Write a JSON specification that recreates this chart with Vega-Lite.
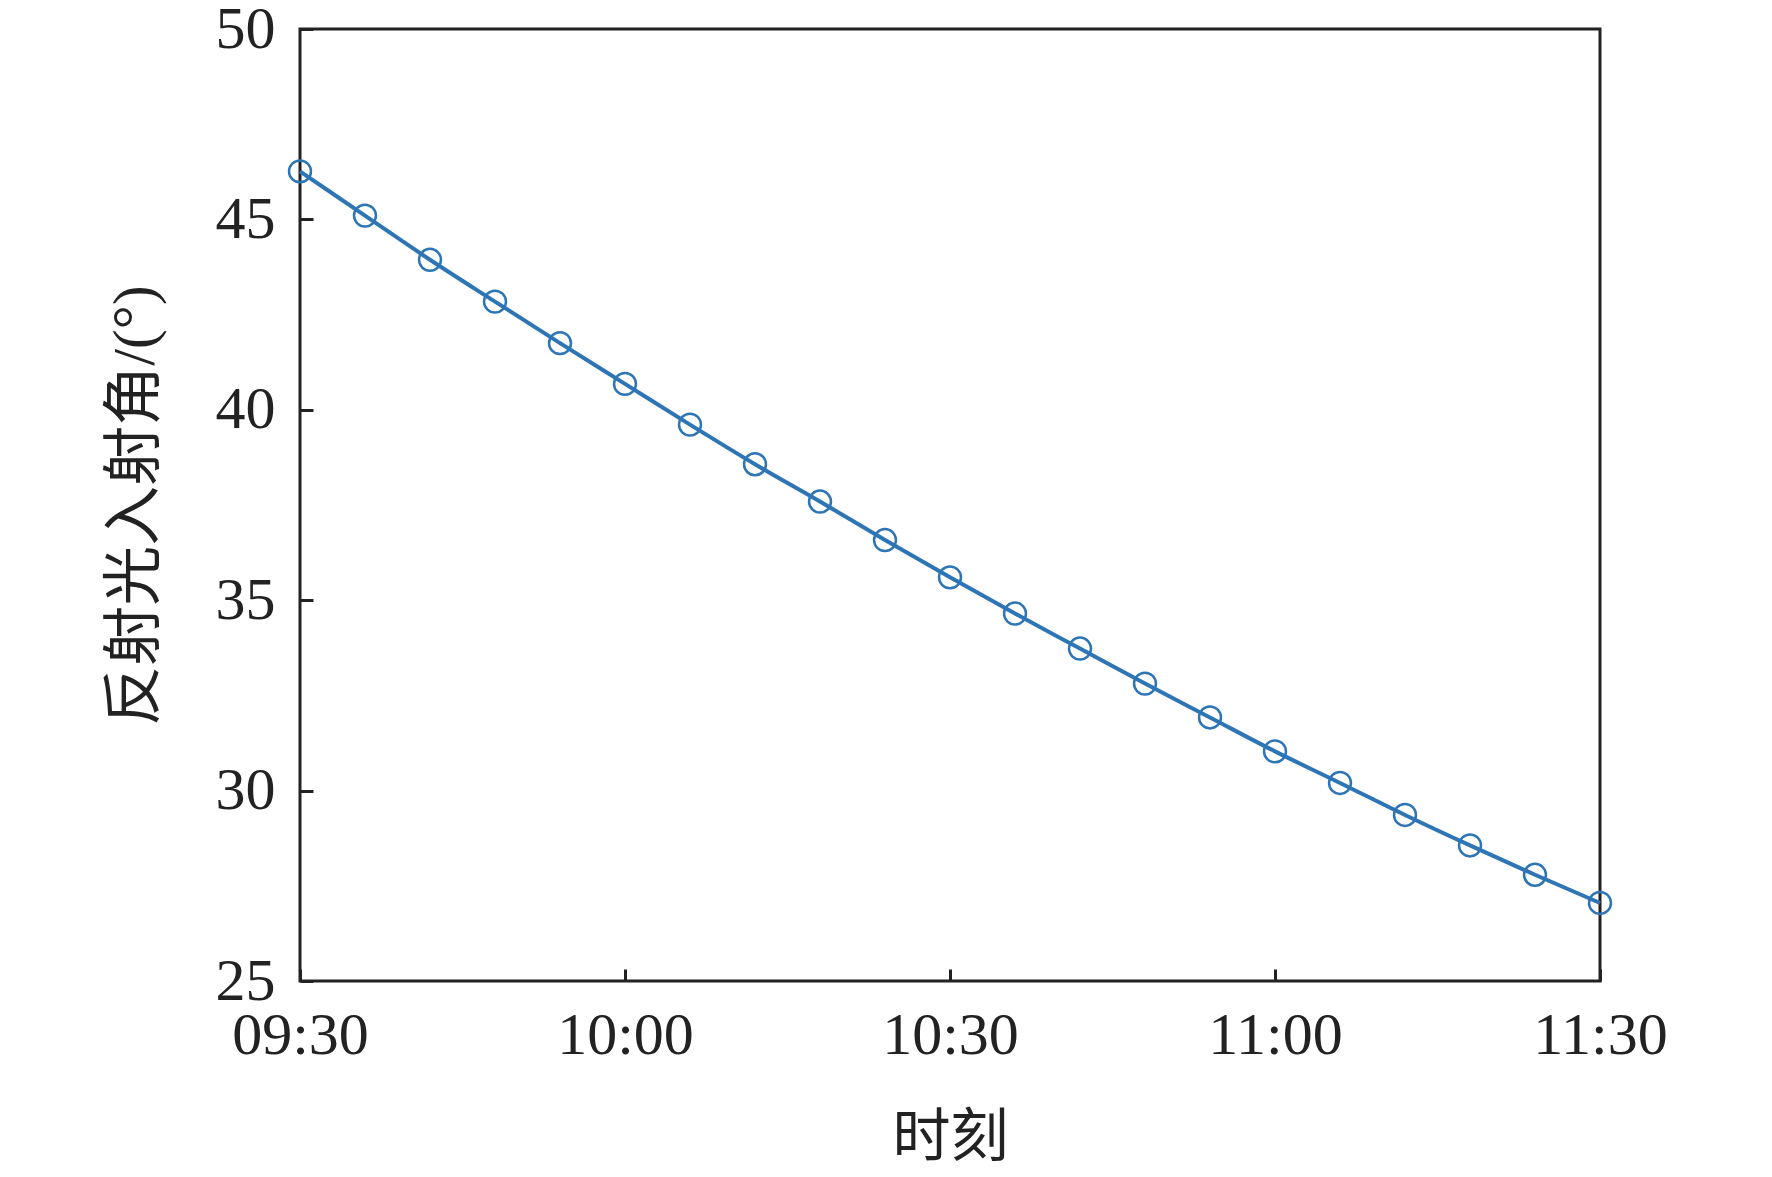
{
  "$schema": "https://vega.github.io/schema/vega-lite/v6.json",
  "autosize": {"type": "none"},
  "width": 1300,
  "height": 952,
  "padding": {"left": 300, "top": 29, "right": 172, "bottom": 196},
  "background": "white",
  "config": {
    "view": {"stroke": "#222222", "strokeWidth": 3},
    "font": "Liberation Serif"
  },
  "data": {
    "values": [
      {"time": "2000-01-01T09:30:00", "angle": 46.26},
      {"time": "2000-01-01T09:36:00", "angle": 45.10},
      {"time": "2000-01-01T09:42:00", "angle": 43.94},
      {"time": "2000-01-01T09:48:00", "angle": 42.84},
      {"time": "2000-01-01T09:54:00", "angle": 41.75},
      {"time": "2000-01-01T10:00:00", "angle": 40.68},
      {"time": "2000-01-01T10:06:00", "angle": 39.61},
      {"time": "2000-01-01T10:12:00", "angle": 38.57},
      {"time": "2000-01-01T10:18:00", "angle": 37.59},
      {"time": "2000-01-01T10:24:00", "angle": 36.58},
      {"time": "2000-01-01T10:30:00", "angle": 35.60},
      {"time": "2000-01-01T10:36:00", "angle": 34.65},
      {"time": "2000-01-01T10:42:00", "angle": 33.73},
      {"time": "2000-01-01T10:48:00", "angle": 32.81},
      {"time": "2000-01-01T10:54:00", "angle": 31.92},
      {"time": "2000-01-01T11:00:00", "angle": 31.03},
      {"time": "2000-01-01T11:06:00", "angle": 30.20},
      {"time": "2000-01-01T11:12:00", "angle": 29.36},
      {"time": "2000-01-01T11:18:00", "angle": 28.56},
      {"time": "2000-01-01T11:24:00", "angle": 27.79},
      {"time": "2000-01-01T11:30:00", "angle": 27.05}
    ]
  },
  "encoding": {
    "x": {
      "field": "time",
      "type": "temporal",
      "scale": {
        "domain": [
          {"year": 2000, "month": 1, "date": 1, "hours": 9, "minutes": 30},
          {"year": 2000, "month": 1, "date": 1, "hours": 11, "minutes": 30}
        ]
      },
      "axis": {
        "title": "时刻",
        "values": [
          {"year": 2000, "month": 1, "date": 1, "hours": 9, "minutes": 30},
          {"year": 2000, "month": 1, "date": 1, "hours": 10, "minutes": 0},
          {"year": 2000, "month": 1, "date": 1, "hours": 10, "minutes": 30},
          {"year": 2000, "month": 1, "date": 1, "hours": 11, "minutes": 0},
          {"year": 2000, "month": 1, "date": 1, "hours": 11, "minutes": 30}
        ],
        "format": "%H:%M",
        "grid": false,
        "domain": false,
        "tickSize": -12,
        "tickWidth": 3,
        "tickColor": "#222222",
        "labelFont": "Liberation Serif",
        "labelFontSize": 60,
        "labelColor": "#222222",
        "labelPadding": 37,
        "labelFlush": false,
        "labelOverlap": false,
        "titleFont": "Liberation Serif, Noto Sans CJK SC",
        "titleFontSize": 58,
        "titleFontWeight": "normal",
        "titleColor": "#222222",
        "titleX": 650,
        "titleY": 157,
        "titleBaseline": "middle",
        "titleAlign": "center"
      }
    },
    "y": {
      "field": "angle",
      "type": "quantitative",
      "scale": {"domain": [25, 50], "nice": false, "zero": false},
      "axis": {
        "title": "反射光入射角/(°)",
        "values": [25, 30, 35, 40, 45, 50],
        "grid": false,
        "domain": false,
        "tickSize": -13,
        "tickWidth": 3,
        "tickColor": "#222222",
        "labelFont": "Liberation Serif",
        "labelFontSize": 60,
        "labelColor": "#222222",
        "labelPadding": 38,
        "labelFlush": false,
        "labelOverlap": false,
        "titleFont": "Liberation Serif, Noto Sans CJK SC",
        "titleFontSize": 60,
        "titleFontWeight": "normal",
        "titleColor": "#222222",
        "titleAngle": -90,
        "titleX": -165,
        "titleY": 476,
        "titleBaseline": "middle",
        "titleAlign": "center"
      }
    }
  },
  "layer": [
    {
      "mark": {"type": "line", "color": "#2E75B6", "strokeWidth": 4, "interpolate": "monotone"}
    },
    {
      "mark": {"type": "point", "shape": "circle", "filled": false, "color": "#2E75B6", "strokeWidth": 2.5, "size": 480, "opacity": 1}
    }
  ]
}
